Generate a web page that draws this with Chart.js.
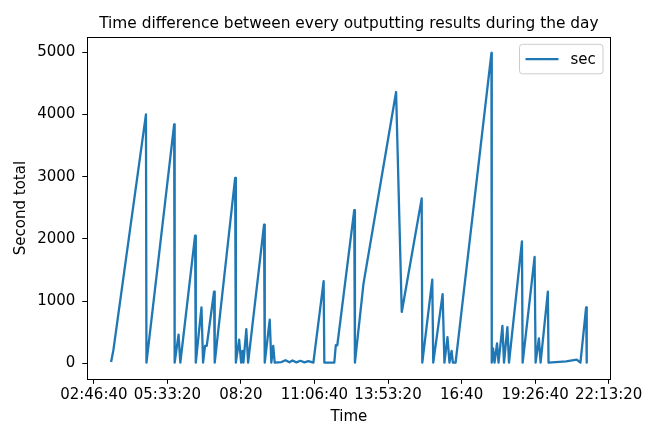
<!DOCTYPE html>
<html><head><meta charset="utf-8">
<script src="https://cdn.jsdelivr.net/npm/chart.js@4.4.1/dist/chart.umd.min.js"></script>
<style>html,body{margin:0;padding:0;background:#fff}canvas{display:block}</style>
</head><body>
<canvas id="c" width="646" height="423"></canvas>
<script>
// ---- data (time of day in seconds, difference in seconds) ----
const timeSeconds = [
  12344,12656,17087,17154,20921,20989,21518,21761,23767,23862,
  24634,24851,25122,25352,26341,26436,29214,29309,29756,30027,
  30203,30339,30732,30976,33144,33239,33916,34133,34390,34593,
  35514,36056,36598,37004,37546,38088,38630,39172,39850,41246,
  41341,42696,42900,43103,45406,45501,46666,51097,51870,54580,
  54661,56016,56151,57425,57669,58084,58354,58645,58822,59187,
  64065,64106,64282,64485,64824,65027,65556,65772,66233,66450,
  68211,68306,69932,70068,70515,70745,71734,71829,74227,75664,
  76165,76937,77018
];
const secValues = [
  20,210,4000,10,3840,10,460,10,2050,10,
  900,10,280,280,1150,10,2980,10,380,10,
  200,10,550,10,2230,10,700,10,280,10,
  20,50,15,45,15,40,15,35,10,1320,
  10,10,290,290,2460,10,1280,4360,825,2650,
  10,1345,10,1110,10,420,10,200,10,10,
  4990,10,240,10,320,10,600,10,580,10,
  1960,10,1710,10,400,10,1150,10,30,60,
  10,900,10
];
const xTickValues = [10000,20000,30000,40000,50000,60000,70000,80000];
const xTickLabels = ['02:46:40','05:33:20','08:20','11:06:40','13:53:20','16:40','19:26:40','22:13:20'];
const yTickValues = [0,1000,2000,3000,4000,5000];
const titleText = 'Time difference between every outputting results during the day';
const seriesLabel = 'sec';
const xAxisLabel = 'Time';
const yAxisLabel = 'Second total';

const FONT = 'DejaVu Sans';
const BLUE = '#1f77b4';
const W = 646, H = 423;
const AREA = {left: 87.3, top: 37.3, right: 610.5, bottom: 378.8};

const points = timeSeconds.map((t, i) => ({x: t, y: secValues[i]}));

const bgPlugin = {
  id: 'bg',
  beforeDraw(chart) {
    const ctx = chart.ctx;
    ctx.save(); ctx.fillStyle = '#fff'; ctx.fillRect(0, 0, W, H); ctx.restore();
  }
};

const framePlugin = {
  id: 'frame',
  afterDatasetsDraw(chart) {
    const {ctx, chartArea: a} = chart;
    ctx.save();
    ctx.strokeStyle = '#000'; ctx.lineWidth = 1;
    ctx.strokeRect(Math.round(a.left) + 0.5, Math.round(a.top) + 0.5,
                   Math.round(a.right - a.left), Math.round(a.bottom - a.top));
    ctx.restore();
  }
};

const titlePlugin = {
  id: 'mplTitle',
  afterDraw(chart) {
    const {ctx, chartArea: a} = chart;
    ctx.save();
    ctx.font = '15.4px "' + FONT + '"';
    ctx.fillStyle = '#000';
    ctx.textAlign = 'center';
    ctx.textBaseline = 'alphabetic';
    ctx.fillText(titleText, (a.left + a.right) / 2, 28.3);
    ctx.restore();
  }
};

const legendPlugin = {
  id: 'mplLegend',
  afterDraw(chart) {
    const {ctx, chartArea: a} = chart;
    const ds = chart.data.datasets[0];
    const bx = a.right - 91, by = a.top + 7, bw = 83.5, bh = 29.5, r = 3;
    ctx.save();
    ctx.beginPath();
    ctx.moveTo(bx + r, by);
    ctx.arcTo(bx + bw, by, bx + bw, by + bh, r);
    ctx.arcTo(bx + bw, by + bh, bx, by + bh, r);
    ctx.arcTo(bx, by + bh, bx, by, r);
    ctx.arcTo(bx, by, bx + bw, by, r);
    ctx.closePath();
    ctx.fillStyle = 'rgba(255,255,255,0.8)';
    ctx.fill();
    ctx.strokeStyle = '#cccccc';
    ctx.lineWidth = 1;
    ctx.stroke();
    const ly = by + bh / 2;
    ctx.beginPath();
    ctx.moveTo(bx + 6, ly); ctx.lineTo(bx + 39, ly);
    ctx.strokeStyle = ds.borderColor; ctx.lineWidth = ds.borderWidth;
    ctx.stroke();
    ctx.font = '15px "' + FONT + '"';
    ctx.fillStyle = '#000';
    ctx.textAlign = 'left'; ctx.textBaseline = 'middle';
    ctx.fillText(ds.label, bx + 51, ly + 1);
    ctx.restore();
  }
};

new Chart(document.getElementById('c'), {
  type: 'line',
  data: {
    datasets: [{
      label: seriesLabel,
      data: points,
      borderColor: BLUE,
      backgroundColor: BLUE,
      borderWidth: 2.3,
      borderJoinStyle: 'round',
      borderCapStyle: 'butt',
      pointRadius: 0,
      tension: 0,
      fill: false
    }]
  },
  options: {
    responsive: false,
    animation: false,
    devicePixelRatio: 1,
    layout: {padding: {left: 0, top: AREA.top, right: W - AREA.right, bottom: 0}},
    plugins: {legend: {display: false}, title: {display: false}, tooltip: {enabled: false}},
    scales: {
      x: {
        type: 'linear',
        min: 9110, max: 80252,
        afterBuildTicks: s => { s.ticks = xTickValues.map(v => ({value: v})); },
        afterFit: s => { s.height = H - AREA.bottom; },
        ticks: {
          autoSkip: false, maxRotation: 0, minRotation: 0,
          padding: 2,
          color: '#000',
          font: {family: FONT, size: 15},
          callback: v => xTickLabels[xTickValues.indexOf(v)]
        },
        grid: {drawOnChartArea: false, drawTicks: true, tickLength: 5, tickColor: '#000', tickWidth: 1},
        border: {display: false},
        title: {display: true, text: xAxisLabel, color: '#000', font: {family: FONT, size: 15}, padding: {top: 0, bottom: -3}}
      },
      y: {
        type: 'linear',
        min: -249.5, max: 5239.5,
        afterBuildTicks: s => { s.ticks = yTickValues.map(v => ({value: v})); },
        afterFit: s => { s.width = AREA.left; },
        ticks: {
          padding: 7,
          color: '#000',
          font: {family: FONT, size: 15},
          callback: v => String(v)
        },
        grid: {drawOnChartArea: false, drawTicks: true, tickLength: 5, tickColor: '#000', tickWidth: 1},
        border: {display: false},
        title: {display: true, text: yAxisLabel, color: '#000', font: {family: FONT, size: 15}, padding: {top: 12.5, bottom: 0}}
      }
    }
  },
  plugins: [bgPlugin, framePlugin, titlePlugin, legendPlugin]
});
</script>
</body></html>
